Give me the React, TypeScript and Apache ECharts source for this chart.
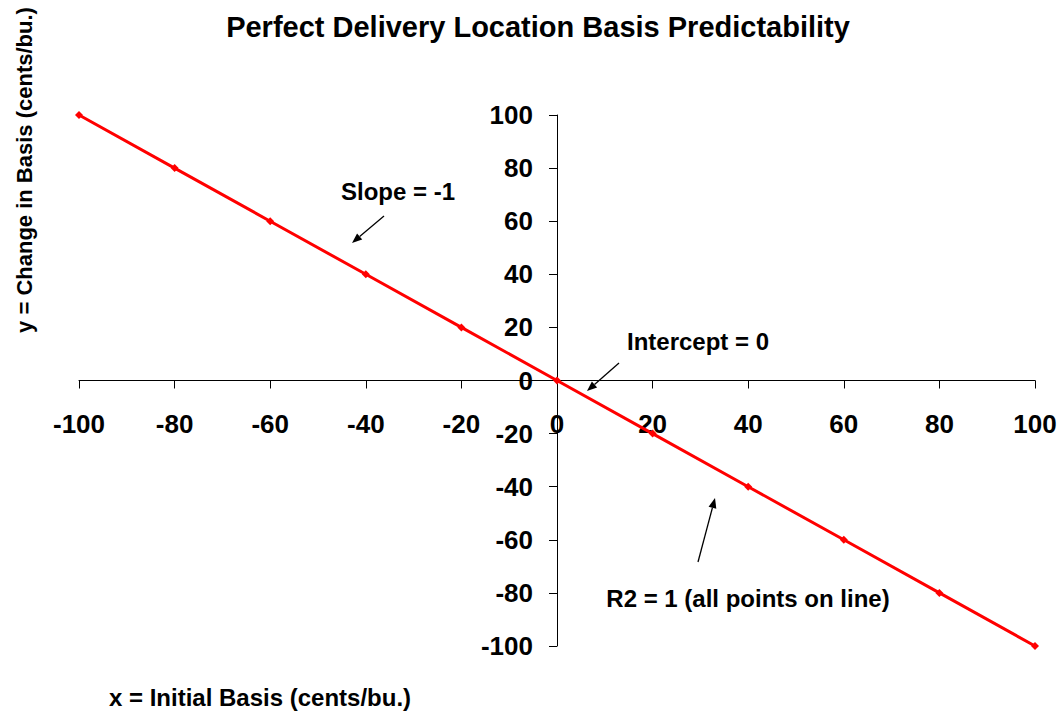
import React, { useEffect, useRef } from "react";
import * as echarts from "echarts";

const titleText = "Perfect Delivery Location Basis Predictability";
const xName = "x = Initial Basis (cents/bu.)";
const yName = "y = Change in Basis (cents/bu.)";
const initialBasis = [-100, -80, -60, -40, -20, 0, 20, 40, 60, 80, 100];
const changeInBasis = [100, 80, 60, 40, 20, 0, -20, -40, -60, -80, -100];
const annotations = [
  { text: "Slope = -1", x: 398, y: 191, tail: [384, 216], head: [352, 243] },
  { text: "Intercept = 0", x: 698, y: 341, tail: [619, 363], head: [587, 391] },
  { text: "R2 = 1 (all points on line)", x: 748, y: 598, tail: [698, 562], head: [715, 498] },
];

const FONT = "'Liberation Sans', Arial, sans-serif";

const GRID = { left: 79, right: 27, top: 115, bottom: 69 };
const W = 1062;
const H = 715;

function arrow(tail: number[], head: number[]) {
  const dx = head[0] - tail[0];
  const dy = head[1] - tail[1];
  const len = Math.sqrt(dx * dx + dy * dy);
  const ux = dx / len;
  const uy = dy / len;
  const hl = 10;
  const hw = 4;
  const bx = head[0] - ux * hl;
  const by = head[1] - uy * hl;
  return [
    {
      type: "line",
      shape: { x1: tail[0], y1: tail[1], x2: bx, y2: by },
      style: { stroke: "#000", lineWidth: 1.3 },
    },
    {
      type: "polygon",
      shape: {
        points: [
          [head[0], head[1]],
          [bx - uy * hw, by + ux * hw],
          [bx + uy * hw, by - ux * hw],
        ],
      },
      style: { fill: "#000" },
    },
  ];
}

export default function App() {
  const ref = useRef<HTMLDivElement>(null);
  useEffect(() => {
    document.body.style.margin = "0";
    if (!ref.current) return;
    const chart = echarts.init(ref.current, null, { renderer: "svg" });
    const graphics: any[] = [
      {
        type: "text",
        x: 538,
        y: 27,
        style: {
          text: titleText,
          font: `bold 29px ${FONT}`,
          fill: "#000",
          align: "center",
          verticalAlign: "middle",
        },
      },
      {
        type: "text",
        x: 260,
        y: 697,
        style: {
          text: xName,
          font: `bold 24px ${FONT}`,
          fill: "#000",
          align: "center",
          verticalAlign: "middle",
        },
      },
      {
        type: "text",
        x: 24,
        y: 170,
        rotation: Math.PI / 2,
        style: {
          text: yName,
          font: `bold 22px ${FONT}`,
          fill: "#000",
          align: "center",
          verticalAlign: "middle",
        },
      },
    ];
    annotations.forEach((a) => {
      graphics.push({
        type: "text",
        x: a.x,
        y: a.y,
        style: {
          text: a.text,
          font: `bold 24px ${FONT}`,
          fill: "#000",
          align: "center",
          verticalAlign: "middle",
        },
      });
      graphics.push(...arrow(a.tail, a.head));
    });

    // axes cross at zero: place them there via offset from the grid edges
    const plotW = W - GRID.left - GRID.right;
    const plotH = H - GRID.top - GRID.bottom;
    const xMin = -100, xMax = 100, yMin = -100, yMax = 100;
    const yAxisOffset = -((0 - xMin) / (xMax - xMin)) * plotW;
    const xAxisOffset = -((0 - yMin) / (yMax - yMin)) * plotH;

    chart.setOption({
      animation: false,
      backgroundColor: "#fff",
      grid: { ...GRID, outerBoundsMode: "none", containLabel: false },
      xAxis: {
        type: "value",
        min: xMin,
        max: xMax,
        interval: 20,
        position: "bottom",
        offset: xAxisOffset,
        axisLine: { onZero: false, lineStyle: { color: "#000", width: 1 } },
        axisTick: { show: true, length: 8, lineStyle: { color: "#000" } },
        axisLabel: {
          margin: 30,
          color: "#000",
          fontSize: 26,
          fontWeight: "bold",
          fontFamily: FONT,
          showMinLabel: true,
          showMaxLabel: true,
        },
        splitLine: { show: false },
      },
      yAxis: {
        type: "value",
        min: yMin,
        max: yMax,
        interval: 20,
        position: "left",
        offset: yAxisOffset,
        axisLine: { show: true, onZero: false, lineStyle: { color: "#000", width: 1 } },
        axisTick: { show: true, length: 8, lineStyle: { color: "#000" } },
        axisLabel: {
          margin: 24,
          color: "#000",
          fontSize: 26,
          fontWeight: "bold",
          fontFamily: FONT,
          showMinLabel: true,
          showMaxLabel: true,
        },
        splitLine: { show: false },
      },
      series: [
        {
          type: "line",
          data: initialBasis.map((x, i) => [x, changeInBasis[i]]),
          lineStyle: { color: "#ff0000", width: 3 },
          itemStyle: { color: "#ff0000" },
          symbol: "diamond",
          symbolSize: 8,
          showSymbol: true,
          z: 3,
        },
      ],
      graphic: graphics,
    });
    return () => chart.dispose();
  }, []);
  return <div ref={ref} style={{ width: W, height: H }} />;
}
